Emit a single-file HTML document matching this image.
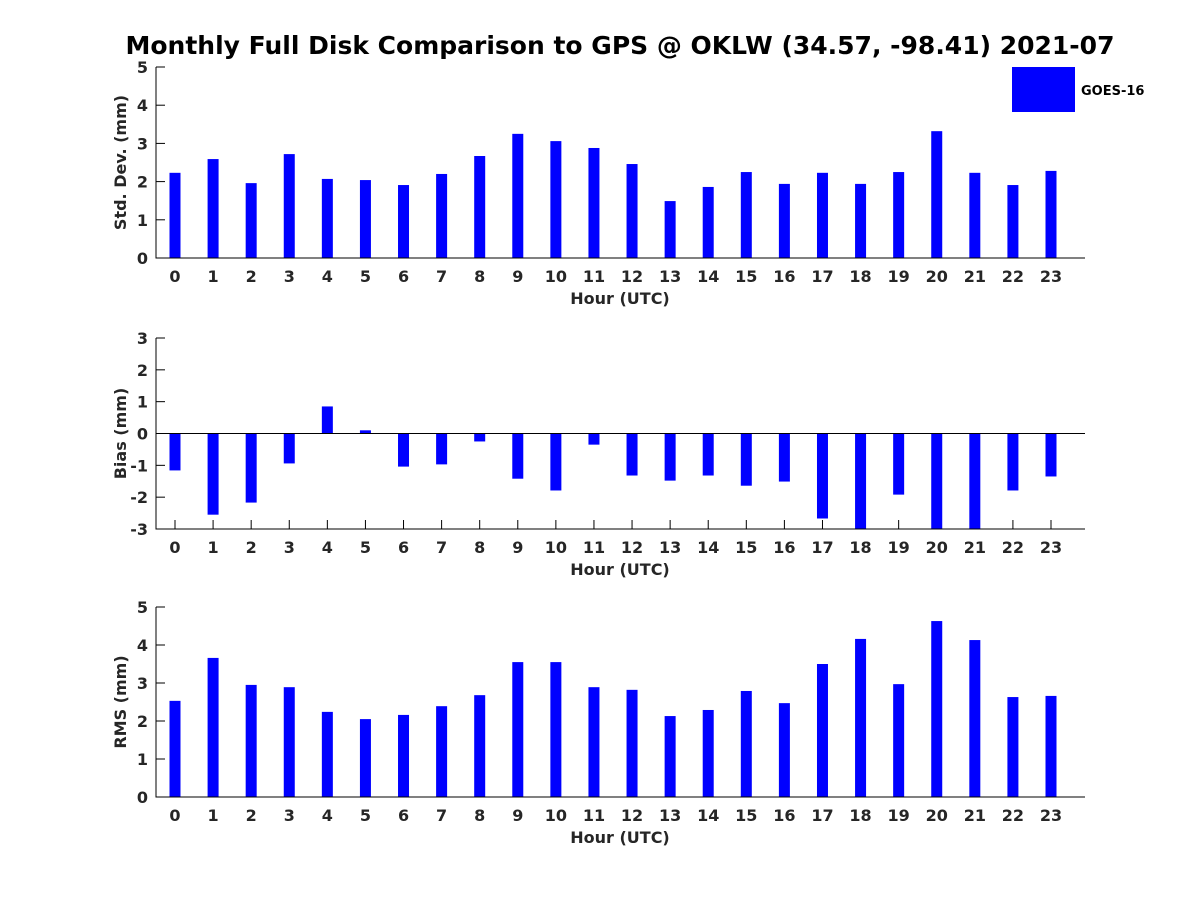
<!DOCTYPE html>
<html><head><meta charset="utf-8"><style>
body{margin:0;background:#fff;}
svg{display:block;font-family:"DejaVu Sans",sans-serif;font-weight:bold;}
</style></head><body>
<svg id="chart" width="1200" height="900">
<rect width="1200" height="900" fill="#fff"/>
<text x="620" y="54" text-anchor="middle" font-size="25" fill="#000">Monthly Full Disk Comparison to GPS @ OKLW (34.57, -98.41) 2021-07</text>
<g>
<rect x="1012" y="67" width="63" height="45" fill="#0000ff"/>
<text x="1081" y="95" font-size="13">GOES-16</text>
</g>
</svg>
<script>
const hours = [0,1,2,3,4,5,6,7,8,9,10,11,12,13,14,15,16,17,18,19,20,21,22,23];
const stdValues = [2.23,2.59,1.96,2.72,2.07,2.04,1.91,2.2,2.67,3.25,3.06,2.88,2.46,1.49,1.86,2.25,1.94,2.23,1.94,2.25,3.32,2.23,1.91,2.28];
const biasValues = [-1.16,-2.55,-2.17,-0.94,0.85,0.1,-1.04,-0.97,-0.25,-1.42,-1.79,-0.35,-1.32,-1.48,-1.32,-1.64,-1.51,-2.67,-3.5,-1.92,-3.5,-3.2,-1.79,-1.35];
const rmsValues = [2.53,3.66,2.95,2.89,2.24,2.05,2.16,2.39,2.68,3.55,3.55,2.89,2.82,2.13,2.29,2.79,2.47,3.5,4.16,2.97,4.63,4.13,2.63,2.66];
const stdTicks = [0,1,2,3,4,5];
const biasTicks = [-3,-2,-1,0,1,2,3];
const rmsTicks = [0,1,2,3,4,5];

const NS = "http://www.w3.org/2000/svg";
const svg = document.getElementById('chart');
function mk(tag, attrs, parent){
  const e = document.createElementNS(NS, tag);
  for (const k in attrs) e.setAttribute(k, attrs[k]);
  (parent||svg).appendChild(e);
  return e;
}
function panel(name, values, ticks, top, bottom, ylabel){
  const g = mk('g', {});
  
  
  const left = 156, right = 1085;
  const ymin = ticks[0], ymax = ticks[ticks.length-1];
  const y = v => bottom - (Math.max(ymin, Math.min(ymax, v)) - ymin) / (ymax - ymin) * (bottom - top);
  const x = h => 175 + (h - hours[0]) * (1051 - 175) / (hours[hours.length-1] - hours[0]);
  const base = y(Math.max(ymin, Math.min(0, ymax)));
  hours.forEach(h => {
    const xx = x(h);
    mk('line', {x1: xx, x2: xx, y1: bottom, y2: bottom - 9, stroke: '#000'}, g);
  });
  values.forEach((v, i) => {
    const yv = y(v);
    const r = mk('rect', {x: x(hours[i]) - 5.5, y: Math.min(yv, base), width: 11, height: Math.abs(base - yv), fill: '#0000ff'}, g);
    
    
  });
  if (ymin < 0) {
    const z = mk('line', {x1: left, x2: right, y1: base, y2: base, stroke: '#000', 'stroke-width': 1}, g);
    
    
  }
  const ax = mk('path', {d: `M${left},${top}V${bottom}H${right}`, fill: 'none', stroke: '#000', 'stroke-width': 1}, g);
  
  
  ticks.forEach(t => {
    const yy = y(t);
    mk('line', {x1: left, x2: left + 9, y1: yy, y2: yy, stroke: '#000'}, g);
    const tx = mk('text', {x: left - 8, y: yy + 6, 'text-anchor': 'end', 'font-size': 16, fill: '#262626'}, g);
    tx.textContent = t;
    
    
  });
  hours.forEach(h => {
    const xx = x(h);
    const tx = mk('text', {x: xx, y: bottom + 24, 'text-anchor': 'middle', 'font-size': 16, fill: '#262626'}, g);
    tx.textContent = h;
    
    
  });
  const xl = mk('text', {x: 620, y: bottom + 46, 'text-anchor': 'middle', 'font-size': 16, fill: '#262626'}, g);
  xl.textContent = 'Hour (UTC)';
  
  
  const cy = (top + bottom) / 2;
  const yl = mk('text', {x: 126, y: cy, 'text-anchor': 'middle', 'font-size': 16, fill: '#262626', transform: `rotate(-90 126 ${cy})`}, g);
  yl.textContent = ylabel;
  
  
}
panel('std-dev', stdValues, stdTicks, 67, 258, 'Std. Dev. (mm)');
panel('bias', biasValues, biasTicks, 338, 529, 'Bias (mm)');
panel('rms', rmsValues, rmsTicks, 607, 797, 'RMS (mm)');
</script>
</body></html>
